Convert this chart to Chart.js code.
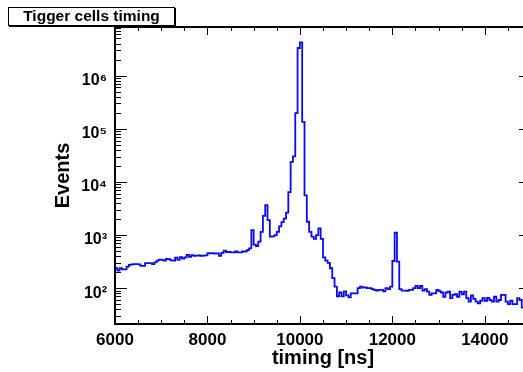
<!DOCTYPE html>
<html><head><meta charset="utf-8">
<script src="https://cdn.jsdelivr.net/npm/chart.js@4/dist/chart.umd.min.js"></script>
<style>html,body{margin:0;padding:0;background:#fff;overflow:hidden;width:523px;height:372px}canvas{display:block}</style>
</head><body><canvas id="c" width="545" height="372"></canvas>
<script>
const histTitle = 'Tigger cells timing';
const xTitle = 'timing [ns]';
const yTitle = 'Events';
const xMin = 6000, xMax = 15000, binWidth = 50;
const yMin = 21.2, yMax = 8.2e6;
const xTickValues = [6000, 8000, 10000, 12000, 14000];
const yTickValues = [1e2, 1e3, 1e4, 1e5, 1e6];
const yTickLabels = ['10\u00B2', '10\u00B3', '10\u2074', '10\u2075', '10\u2076'];
// counts per 50 ns bin starting at 6000 ns
const counts = [
  237, 214, 237, 226, 226, 254, 274, 280, 283, 283,
  280, 262, 262, 295, 295, 295, 283, 305, 330, 345,
  340, 330, 355, 350, 335, 330, 375, 340, 385, 360,
  380, 422, 390, 420, 405, 410, 412, 405, 410, 415,
  454, 450, 455, 448, 452, 405, 460, 507, 480, 480,
  470, 470, 490, 470, 470, 490, 490, 520, 562, 1240,
  660, 620, 750, 1150, 2290, 3660, 1910, 930, 940, 1000,
  1150, 1460, 1750, 2040, 2630, 6410, 23700, 30300, 197000, 3300000,
  4200000, 134000, 5560, 1780, 1150, 930, 850, 1000, 1330, 850,
  381, 330, 300, 237, 155, 107, 70, 83, 70, 87,
  73, 67, 80, 80, 80, 100, 107, 103, 103, 100,
  100, 96, 93, 90, 93, 93, 87, 100, 96, 107,
  325, 1104, 316, 96, 90, 90, 89, 93, 93, 100,
  110, 100, 110, 90, 96, 86, 75, 80, 80, 93,
  88, 83, 69, 83, 86, 65, 75, 77, 69, 86,
  77, 86, 65, 56, 73, 63, 56, 52, 58, 65,
  58, 66, 60, 56, 69, 56, 60, 75, 75, 56,
  50, 58, 50, 50, 65, 60, 43
];

const points = [{x: xMin, y: yMin / 10}];
counts.forEach((c, i) => points.push({x: xMin + i * binWidth, y: c}));
points.push({x: xMin + counts.length * binWidth, y: counts[counts.length - 1]});

const FONT = "'Liberation Sans', Arial, Helvetica, sans-serif";

const rootFrame = {
  id: 'rootFrame',
  afterDraw(chart) {
    const {ctx, chartArea: a, scales} = chart;
    const xs = scales.x, ys = scales.y;
    ctx.save();
    ctx.strokeStyle = '#000';
    ctx.lineWidth = 1;
    ctx.beginPath();
    for (let v = xMin; v <= xMax; v += 500) {
      const px = Math.round(xs.getPixelForValue(v)) + 0.5;
      const len = (v % 2000 === 0) ? 8 : 4;
      ctx.moveTo(px, a.bottom); ctx.lineTo(px, a.bottom - len);
      ctx.moveTo(px, a.top); ctx.lineTo(px, a.top + len);
    }
    for (let d = 1; d <= 7; d++) {
      for (let m = 1; m <= 9; m++) {
        const v = m * Math.pow(10, d);
        if (v < yMin || v > yMax) continue;
        const py = Math.round(ys.getPixelForValue(v)) + 0.5;
        const len = (m === 1) ? 12 : 6;
        ctx.moveTo(a.left, py); ctx.lineTo(a.left + len, py);
        ctx.moveTo(a.right, py); ctx.lineTo(a.right - len, py);
      }
    }
    ctx.stroke();
    ctx.lineWidth = 2;
    ctx.strokeRect(a.left, a.top, a.right - a.left, a.bottom - a.top);
    // title box
    ctx.fillStyle = '#fff';
    ctx.fillRect(8, 7, 167, 19);
    ctx.lineWidth = 1;
    ctx.strokeRect(8.5, 7.5, 166, 18);
    ctx.beginPath();
    ctx.moveTo(175.5, 8); ctx.lineTo(175.5, 26.5); ctx.lineTo(9, 26.5);
    ctx.stroke();
    ctx.fillStyle = '#000';
    ctx.font = 'bold 15.5px ' + FONT;
    ctx.textAlign = 'center';
    ctx.textBaseline = 'alphabetic';
    ctx.fillText(histTitle, 91.5, 21);
    ctx.restore();
  }
};

new Chart(document.getElementById('c'), {
  type: 'line',
  data: {
    datasets: [{
      data: points,
      stepped: true,
      borderColor: 'rgb(10,10,235)',
      borderWidth: 1.8,
      pointRadius: 0,
      fill: false,
      tension: 0
    }]
  },
  options: {
    responsive: false,
    devicePixelRatio: 1,
    animation: false,
    parsing: false,
    layout: {padding: {left: 0, right: 14, top: 27, bottom: 0}},
    plugins: {legend: {display: false}, tooltip: {enabled: false}, title: {display: false}},
    scales: {
      x: {
        type: 'linear', position: 'bottom', min: xMin, max: xMax,
        afterFit: s => { s.height = 48; },
        afterBuildTicks: s => { s.ticks = xTickValues.map(v => ({value: v})); },
        grid: {display: false, drawTicks: false},
        border: {display: false},
        ticks: {
          padding: 6, color: '#000', maxRotation: 0, autoSkip: false,
          font: {family: FONT, weight: 'bold', size: 17},
          callback: v => String(v)
        },
        title: {display: true, text: xTitle, color: '#000',
          font: {family: FONT, weight: 'bold', size: 20}, padding: {top: 0, bottom: 2}}
      },
      y: {
        type: 'logarithmic', position: 'left', min: yMin, max: yMax,
        afterFit: s => { s.width = 115; },
        afterBuildTicks: s => { s.ticks = yTickValues.map(v => ({value: v})); },
        grid: {display: false, drawTicks: false},
        border: {display: false},
        ticks: {
          padding: 8, color: '#000', autoSkip: false, labelOffset: 5,
          font: {family: FONT, weight: 'bold', size: 16},
          callback: (v, i) => yTickLabels[i]
        },
        title: {display: true, text: yTitle, color: '#000',
          font: {family: FONT, weight: 'bold', size: 20}, padding: {top: 51, bottom: 0}}
      }
    }
  },
  plugins: [rootFrame]
});
</script>
</body></html>
